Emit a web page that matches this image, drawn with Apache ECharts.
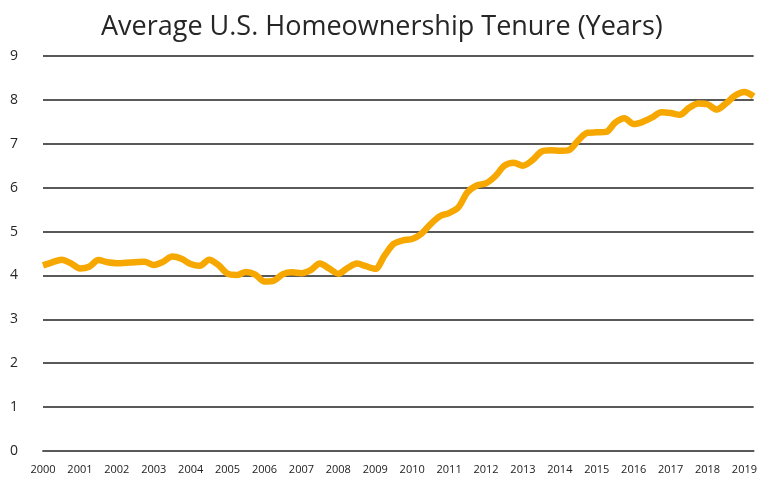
<!DOCTYPE html>
<html>
<head>
<meta charset="utf-8">
<script src="https://cdn.jsdelivr.net/npm/echarts@6/dist/echarts.min.js"></script>
<style>
  html, body { margin: 0; padding: 0; background: #fff; }
  #chart { width: 760px; height: 479px; }
</style>
</head>
<body>
<div id="chart"></div>
<script>
// tick labels (one per year, shown at Q1)
const years = [
  "2000", "2001", "2002", "2003", "2004", "2005", "2006", "2007", "2008", "2009",
  "2010", "2011", "2012", "2013", "2014", "2015", "2016", "2017", "2018", "2019",
];

// quarterly categories, 2000 Q1 .. 2019 Q2
const quarters = [];
years.forEach((y) => {
  ["Q1", "Q2", "Q3", "Q4"].forEach((q) => quarters.push(y + " " + q));
});
const categories = quarters.slice(0, 78);

// average tenure in years
const tenure = [
  4.23, 4.30, 4.36, 4.28, 4.16, 4.20, 4.35, 4.30, 4.28, 4.29,
  4.30, 4.31, 4.24, 4.31, 4.43, 4.38, 4.26, 4.22, 4.36, 4.24,
  4.04, 4.01, 4.08, 4.02, 3.86, 3.88, 4.03, 4.07, 4.05, 4.12,
  4.27, 4.16, 4.04, 4.17, 4.27, 4.21, 4.15, 4.45, 4.72, 4.80,
  4.83, 4.95, 5.17, 5.35, 5.42, 5.55, 5.90, 6.05, 6.10, 6.26,
  6.50, 6.57, 6.50, 6.62, 6.82, 6.85, 6.84, 6.86, 7.08, 7.25,
  7.26, 7.27, 7.48, 7.58, 7.45, 7.50, 7.60, 7.72, 7.70, 7.66,
  7.82, 7.92, 7.90, 7.78, 7.92, 8.10, 8.18, 8.08,
];

const chart = echarts.init(document.getElementById("chart"));

const option = {
  animation: false,
  title: {
    text: "Average U.S. Homeownership Tenure (Years)",
    left: 96,
    top: 9,
    textStyle: {
      fontFamily: "Open Sans",
      fontSize: 27,
      fontWeight: "normal",
      color: "#262626",
    },
  },
  grid: {
    left: 43,
    right: 3,
    top: 56,
    bottom: 28,
  },
  xAxis: {
    type: "category",
    data: categories,
    boundaryGap: false,
    axisLine: {
      lineStyle: { color: "#595959", width: 1.8 },
    },
    axisTick: { show: false },
    axisLabel: {
      interval: 3,
      margin: 13,
      fontFamily: "Open Sans",
      fontSize: 11,
      color: "#222",
      formatter: (v) => v.slice(0, 4),
    },
  },
  yAxis: {
    type: "value",
    min: 0,
    max: 9,
    interval: 1,
    axisLine: { show: false },
    axisTick: { show: false },
    axisLabel: {
      align: "center",
      margin: 29,
      fontFamily: "Open Sans",
      fontSize: 14,
      color: "#262626",
    },
    splitLine: {
      lineStyle: { color: "#595959", width: 1.8 },
    },
  },
  series: [
    {
      type: "line",
      data: tenure,
      smooth: 0.3,
      showSymbol: false,
      lineStyle: {
        color: "#F7A800",
        width: 6.5,
      },
    },
  ],
};

chart.setOption(option);
</script>
</body>
</html>
